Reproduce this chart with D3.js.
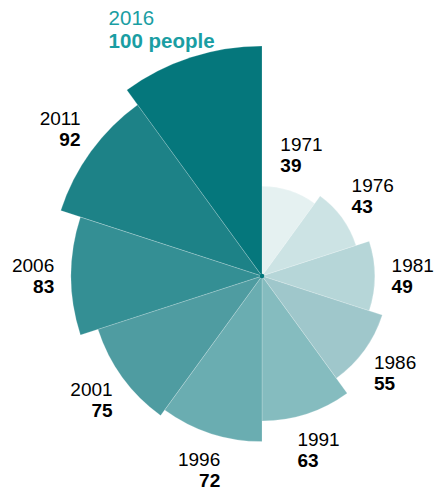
<!DOCTYPE html>
<html>
<head>
<meta charset="utf-8">
<script src="https://cdn.jsdelivr.net/npm/d3@7"></script>
<style>
    body { margin: 0; background: #fff; }
    svg { display: block; }
    text { font-family: Arial, "Liberation Sans", sans-serif; }
</style>
</head>
<body>
<svg id="chart" width="437" height="493"></svg>
<script>

//census years, clockwise from 12 o'clock
var years = ['1971', '1976', '1981', '1986', '1991', '1996', '2001', '2006', '2011', '2016'];
//people per census
var counts = [39, 43, 49, 55, 63, 72, 75, 83, 92, 100];
//unit shown on the last label
var unit = 'people';

//fill colours, light to dark
var palette = ['#e5f1f1', '#cce3e4', '#b6d6d8', '#9fc7cb', '#85bcbf',
               '#6aadb1', '#4f9ca1', '#348f94', '#1d8287', '#05777c'];

var svg = d3.select('#chart'),
    cx = 262,
    cy = 276,
    maxRadius = 230,
    g = svg.append('g').attr('transform', 'translate(' + cx + ',' + cy + ')');

var data = years.map(function (y, i) {
    return { year: y, count: counts[i] };
});

//radius grows with value
var r = d3.scaleLinear()
    .domain([0, d3.max(counts)])
    .range([0, maxRadius]);

//each year gets an equal slice
var angle = d3.scaleBand()
    .domain(years)
    .range([0, 2 * Math.PI]);

var colour = d3.scaleOrdinal()
    .domain(years)
    .range(palette);

var arc = d3.arc()
    .innerRadius(0)
    .outerRadius(function (d) { return r(d.count); })
    .startAngle(function (d) { return angle(d.year); })
    .endAngle(function (d) { return angle(d.year) + angle.bandwidth(); });

g.selectAll('path')
    .data(data)
    .enter().append('path')
    .attr('d', arc)
    .attr('fill', function (d) { return colour(d.year); })
    .attr('stroke', '#fff')
    .attr('stroke-opacity', 0.5)
    .attr('stroke-width', 0.4);

//little dot in the middle
g.append('circle')
    .attr('r', 2.3)
    .attr('fill', '#05777c');

//labels
var last = data.length - 1;
data.forEach(function (d, i) {
    var mid = angle(d.year) + angle.bandwidth() / 2;
    var highlight = (i === last);
    var anchor = (highlight || mid < Math.PI) ? 'start' : 'end';
    var size = highlight ? 20.5 : 19;

    var lab = g.append('g')
        .attr('fill', highlight ? '#1a9ea3' : '#000')
        .attr('text-anchor', anchor)
        .style('font-size', size + 'px');

    lab.append('text')
        .attr('y', 0)
        .text(d.year);

    lab.append('text')
        .attr('y', highlight ? 23 : 21)
        .attr('font-weight', 'bold')
        .text(highlight ? d.count + ' ' + unit : d.count);

    //centre of the label sits out past the slice edge,
    //the big headline one leans back a little
    var box = lab.node().getBBox();
    var dist = r(d.count) + 38;
    var a = highlight ? mid - angle.bandwidth() / 9 : mid;
    var tx = Math.sin(a) * dist,
        ty = -Math.cos(a) * dist;
    var ox = tx - (box.x + box.width / 2),
        oy = ty - (box.y + box.height / 2);
    //keep it inside the picture
    var top = oy + box.y + cy;
    if (top < 6) { oy += 6 - top; }
    lab.attr('transform', 'translate(' + ox + ',' + oy + ')');
});

</script>
</body>
</html>
